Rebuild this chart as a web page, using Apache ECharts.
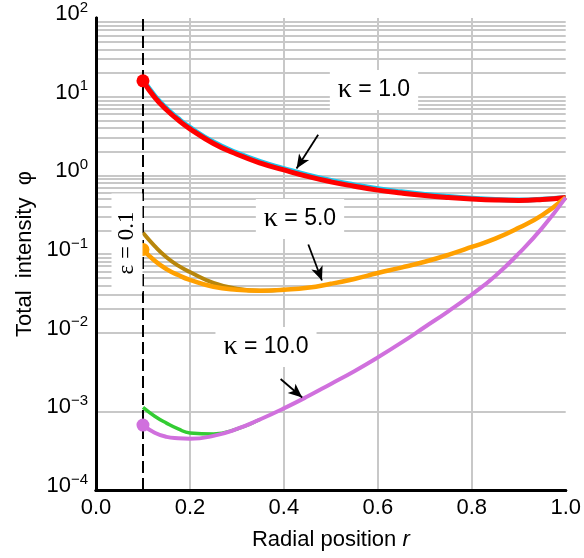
<!DOCTYPE html>
<html>
<head>
    <meta charset="utf-8">
    <script src="https://cdn.jsdelivr.net/npm/echarts@6/dist/echarts.min.js"></script>
    <style>
        html, body { margin: 0; padding: 0; background: #fff; }
        #main { width: 584px; height: 558px; }
    </style>
</head>
<body>
    <div id="main"></div>
    <script type="text/javascript">
        // radial positions
        var r = [0.1, 0.125, 0.15, 0.175, 0.2, 0.25, 0.3, 0.35, 0.4, 0.45, 0.5, 0.55, 0.6, 0.65, 0.7, 0.75, 0.8, 0.85, 0.9, 0.95, 1.0];

        // kappa = 1.0
        var kappa1 = [15.9, 9.8, 6.83, 5.05, 3.90, 2.54, 1.85, 1.43, 1.17, 0.969, 0.827, 0.727, 0.649, 0.595, 0.553, 0.523, 0.501, 0.486, 0.480, 0.493, 0.523];
        var kappa1Approx = [16.6, 10.25, 7.13, 5.27, 4.07, 2.65, 1.93, 1.49, 1.22, 1.01, 0.862, 0.757, 0.675, 0.617, 0.572, 0.537, 0.511, 0.493, 0.485, 0.496, 0.523];
        // kappa = 5.0
        var kappa5 = [0.114, 0.082, 0.0643, 0.054, 0.0469, 0.0384, 0.0352, 0.0342, 0.0352, 0.0372, 0.0418, 0.0482, 0.0573, 0.0671, 0.0797, 0.0975, 0.1228, 0.1567, 0.215, 0.312, 0.522];
        var kappa5Approx = [0.186, 0.126, 0.091, 0.0711, 0.059, 0.043, 0.0362, 0.0342, 0.0352, null, null, null, null, null, null, null, null, null, null, null, null];
        // kappa = 10.0
        var kappa10 = [6.68e-4, 5.35e-4, 4.74e-4, 4.54e-4, 4.48e-4, 4.88e-4, 5.97e-4, 7.94e-4, 1.09e-3, 1.54e-3, 2.23e-3, 3.24e-3, 4.85e-3, 7.46e-3, 0.0118, 0.0187, 0.0305, 0.0526, 0.1016, 0.215, 0.522];
        var kappa10Approx = [1.12e-3, 8.66e-4, 7.08e-4, 5.97e-4, 5.32e-4, 5.16e-4, 5.97e-4, 7.94e-4, null, null, null, null, null, null, null, null, null, null, null, null, null];

        var decades = [1e-4, 1e-3, 1e-2, 1e-1, 1, 10];
        var minorSteps = [2, 3, 4, 5, 6, 7, 8, 9];
        var epsilon = 0.1;

        function pairs(ys) {
            var out = [];
            for (var i = 0; i < r.length; i++) {
                out.push([r[i], ys[i]]);
            }
            return out;
        }

        var minorLines = [];
        decades.forEach(function (d) {
            minorSteps.forEach(function (k) {
                minorLines.push({ yAxis: k * d });
            });
        });

        var sans = 'Liberation Sans';
        var serif = 'Liberation Serif';
        var gridGray = '#c8c8c8';

        function curve(name, ys, color, width) {
            return {
                name: name,
                type: 'line',
                z: 3,
                data: pairs(ys),
                smooth: 0.5,
                showSymbol: false,
                connectNulls: false,
                lineStyle: { color: color, width: width },
                silent: true,
                animation: false
            };
        }

        function kappaLabel(x, y, txt) {
            return {
                type: 'text',
                x: x, y: y,
                z: 20,
                style: {
                    text: '{k|\u03ba}{t| = ' + txt + '}',
                    rich: {
                        k: { fontFamily: serif, fontSize: 28, fill: '#000' },
                        t: { fontFamily: sans, fontSize: 23, fill: '#000' }
                    },
                    backgroundColor: '#fff', padding: [6, 8, 6, 8],
                    align: 'center', verticalAlign: 'middle'
                }
            };
        }

        var option = {
            animation: false,
            grid: { left: 96, right: 10, top: 9, bottom: 68 },
            xAxis: [
                {
                    type: 'value',
                    min: 0,
                    max: 1,
                    interval: 0.2,
                    name: '{a|Radial position }{i|r}',
                    nameLocation: 'middle',
                    nameGap: 39,
                    nameTextStyle: {
                        rich: {
                            a: { fontFamily: sans, fontSize: 22, color: '#000' },
                            i: { fontFamily: sans, fontSize: 22, fontStyle: 'italic', color: '#000' }
                        }
                    },
                    axisLine: { show: true, onZero: false, lineStyle: { color: '#000', width: 3 } },
                    axisTick: { show: false },
                    axisLabel: {
                        margin: 7,
                        fontFamily: sans,
                        fontSize: 22,
                        color: '#000',
                        formatter: function (v) { return v.toFixed(1); }
                    },
                    splitLine: { show: true, showMinLine: false, showMaxLine: false, lineStyle: { color: gridGray, width: 2 } }
                },
                {
                    type: 'value',
                    position: 'top',
                    min: 0,
                    max: 1,
                    axisLine: { show: true, lineStyle: { color: '#000', width: 3 } },
                    axisTick: { show: false },
                    axisLabel: { show: false },
                    splitLine: { show: false }
                }
            ],
            yAxis: [
                {
                    type: 'log',
                    logBase: 10,
                    min: 1e-4,
                    max: 100,
                    splitNumber: 6,
                    name: 'Total  intensity  \u03c6',
                    nameLocation: 'middle',
                    nameGap: 60,
                    nameTextStyle: { fontFamily: sans, fontSize: 22, color: '#000' },
                    axisLine: { show: true, onZero: false, lineStyle: { color: '#000', width: 3 } },
                    axisTick: { show: false },
                    axisLabel: {
                        margin: 8,
                        padding: [0, 0, 8, 0],
                        formatter: function (v) {
                            var e = Math.round(Math.log10(v));
                            var s = e < 0 ? '\u2212' + (-e) : '' + e;
                            return '{b|10}{s|' + s + '}';
                        },
                        rich: {
                            b: { fontFamily: sans, fontSize: 22, lineHeight: 22, color: '#000', verticalAlign: 'bottom' },
                            s: { fontFamily: sans, fontSize: 15, lineHeight: 15, color: '#000', verticalAlign: 'bottom', padding: [0, 0, 10, 0] }
                        }
                    },
                    splitLine: { show: true, showMinLine: false, showMaxLine: false, lineStyle: { color: gridGray, width: 2 } }
                },
                {
                    type: 'value',
                    position: 'right',
                    min: 0,
                    max: 1,
                    axisLine: { show: true, lineStyle: { color: '#000', width: 3 } },
                    axisTick: { show: false },
                    axisLabel: { show: false },
                    splitLine: { show: false }
                }
            ],
            series: [
                {
                    name: 'minor grid',
                    type: 'line',
                    data: [],
                    silent: true,
                    markLine: {
                        z: 0,
                        silent: true,
                        symbol: ['none', 'none'],
                        label: { show: false },
                        animation: false,
                        lineStyle: { color: gridGray, width: 2, type: 'solid' },
                        data: minorLines
                    }
                },
                {
                    name: 'epsilon',
                    type: 'line',
                    data: [],
                    silent: true,
                    markLine: {
                        z: 1,
                        silent: true,
                        symbol: ['none', 'none'],
                        label: { show: false },
                        animation: false,
                        lineStyle: { color: '#000', width: 2, type: [12, 5] },
                        data: [{ xAxis: epsilon }]
                    }
                },
                curve('kappa 1 approx', kappa1Approx, '#1cc7ee', 5),
                curve('kappa 1', kappa1, '#ff0000', 5),
                curve('kappa 5 approx', kappa5Approx, '#b8860b', 4),
                curve('kappa 5', kappa5, '#ffa000', 4.5),
                curve('kappa 10 approx', kappa10Approx, '#33cc33', 3.5),
                curve('kappa 10', kappa10, '#d070dd', 4),
                {
                    name: 'start',
                    type: 'scatter',
                    z: 4,
                    symbolSize: 13,
                    silent: true,
                    itemStyle: { opacity: 1, borderWidth: 0 },
                    data: [
                        { value: [r[0], kappa1[0]], itemStyle: { color: '#ff0000' } },
                        { value: [r[0], kappa5[0]], itemStyle: { color: '#ffa000' } },
                        { value: [r[0], kappa10[0]], itemStyle: { color: '#d070dd' } }
                    ]
                },
                {
                    name: 'arrows',
                    type: 'line',
                    data: [],
                    silent: true,
                    markLine: {
                        z: 5,
                        silent: true,
                        symbol: ['none', 'arrow'],
                        symbolSize: [9, 14],
                        label: { show: false },
                        animation: false,
                        lineStyle: { color: '#000', width: 1.8, type: 'solid' },
                        data: [
                            [{ coord: [0.473, 3.28] }, { coord: [0.427, 1.22] }],
                            [{ coord: [0.452, 0.132] }, { coord: [0.481, 0.046] }],
                            [{ coord: [0.393, 2.58e-3] }, { coord: [0.439, 1.5e-3] }]
                        ]
                    }
                }
            ],
            graphic: [
                kappaLabel(374, 90, '1.0'),
                kappaLabel(300, 219, '5.0'),
                kappaLabel(266, 347, '10.0'),
                {
                    type: 'text',
                    x: 127, y: 243,
                    z: 20,
                    rotation: Math.PI / 2,
                    style: {
                        text: '{e|\u03b5 = 0.1}',
                        rich: { e: { fontFamily: serif, fontSize: 23, fill: '#000' } },
                        backgroundColor: '#fff', padding: [4, 18, 4, 18],
                        align: 'center', verticalAlign: 'middle'
                    }
                }
            ]
        };

        var myChart = echarts.init(document.getElementById('main'));
        myChart.setOption(option);
    </script>
</body>
</html>
